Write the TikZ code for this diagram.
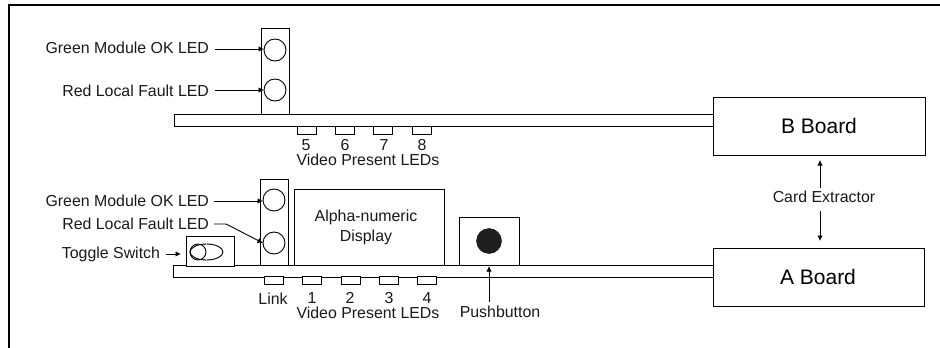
\documentclass[tikz,border=0pt]{standalone}
\usepackage{fontspec}
\setmainfont{Liberation Sans}
\usetikzlibrary{arrows.meta,shapes.geometric}
\tikzset{
  boxn/.style={draw=black,line width=0.9pt,fill=white,inner sep=0pt,outer sep=0pt,anchor=north west},
  led/.style={boxn,minimum width=19pt,minimum height=8pt},
  lamp/.style={circle,draw=black,line width=0.9pt,fill=white,inner sep=0pt,outer sep=0pt,minimum size=22pt},
  lbl/.style={inner sep=0pt,outer sep=0pt,font=\fontsize{15.9}{20}\selectfont,text=black!90},
  bigl/.style={inner sep=0pt,outer sep=0pt,font=\fontsize{21}{24}\selectfont,text=black},
  arr/.style={line width=0.9pt,-{Latex[length=5.5pt,width=5.5pt]}},
}
\begin{document}
\begin{tikzpicture}[x=1pt,y=-1pt]
\useasboundingbox (0,0) rectangle (940,348);
\draw[line width=2pt] (9,348) -- (9,5) -- (940,5);
% top assembly
\node[boxn,minimum width=539pt,minimum height=12pt] (bboard) at (174,114) {};
\node[boxn,minimum width=212pt,minimum height=58pt] (bb) at (713,97) {};
\node[bigl] at (819,126) {B Board};
\node[boxn,minimum width=28pt,minimum height=86pt] (tpanel) at (261,28) {};
\node[lamp] (tg) at (275,50) {};
\node[lamp] (tr) at (275,90) {};
\node[led] (l5) at (297,126) {};
\node[led] (l6) at (335,126) {};
\node[led] (l7) at (373,126) {};
\node[led] (l8) at (412,126) {};
\node[lbl] at (306,145) {5};
\node[lbl] at (345,145) {6};
\node[lbl] at (384,145) {7};
\node[lbl] at (422,145) {8};
\node[lbl] at (368,160) {Video Present LEDs};
\node[lbl,anchor=east] (tgl) at (209,48) {Green Module OK LED};
\node[lbl,anchor=east] (trl) at (209,91) {Red Local Fault LED};
\coordinate (tgs) at (215,49);
\coordinate (trs) at (215,90);
\draw[arr] (tgs) -- (tgs -| tg.west);
\draw[arr] (trs) -- (trs -| tr.west);
% bottom assembly
\node[boxn,minimum width=540pt,minimum height=12pt] (aboard) at (173,265) {};
\node[boxn,minimum width=211pt,minimum height=58pt] (ab) at (713,248) {};
\node[bigl] at (818,277) {A Board};
\node[boxn,minimum width=28pt,minimum height=86pt] (bpanel) at (260,179) {};
\node[lamp] (bg) at (274,200) {};
\node[lamp] (br) at (274,243) {};
\node[boxn,minimum width=150pt,minimum height=76pt] (disp) at (294,189) {};
\node[lbl,align=center] at (366,227) {Alpha-numeric\\Display};
\node[boxn,minimum width=60pt,minimum height=48pt] (pbox) at (459,217) {};
\node[circle,draw=black,fill=black!88,inner sep=0pt,minimum size=25pt] (pb) at (489,241) {};
\node[boxn,minimum width=48pt,minimum height=30pt] (tbox) at (186,236) {};
\node[ellipse,draw=black,line width=0.9pt,inner sep=0pt,minimum width=33pt,minimum height=16pt] (te) at (206.5,252) {};
\node[circle,draw=black,line width=0.9pt,inner sep=0pt,minimum size=16pt] (tc) at (198,252) {};
\node[led] (ll) at (264,276) {};
\node[led] (l1) at (302,276) {};
\node[led] (l2) at (341,276) {};
\node[led] (l3) at (379,276) {};
\node[led] (l4) at (417,276) {};
\node[lbl] at (273,299) {Link};
\node[lbl] at (312,298) {1};
\node[lbl] at (350,298) {2};
\node[lbl] at (389,298) {3};
\node[lbl] at (427,298) {4};
\node[lbl] at (368,313) {Video Present LEDs};
\node[lbl,anchor=east] (bgl) at (209,201) {Green Module OK LED};
\node[lbl,anchor=east] (brl) at (209,224) {Red Local Fault LED};
\node[lbl,anchor=east] (tsl) at (160,254) {Toggle Switch};
\node[lbl] (pbl) at (500,312) {Pushbutton};
\node[lbl] (ce) at (824,197) {Card Extractor};
\coordinate (bgs) at (214,201);
\coordinate (brs) at (214,224);
\coordinate (tss) at (166,254);
\coordinate (tse) at (181,254);
\coordinate (pbs) at (489,302);
\coordinate (pbe) at (489,266);
\coordinate (ceu) at (820,188);
\coordinate (ceue) at (820,160);
\coordinate (ced) at (820,211);
\coordinate (cede) at (820,241);
\draw[arr] (bgs) -- (bgs -| bg.west);
\draw[arr] (brs) -- (226,224) -- (br.west);
\draw[arr] (tss) -- (tse);
\draw[arr] (pbs) -- (pbe);
\draw[arr] (ceu) -- (ceue);
\draw[arr] (ced) -- (cede);
\end{tikzpicture}
\end{document}
